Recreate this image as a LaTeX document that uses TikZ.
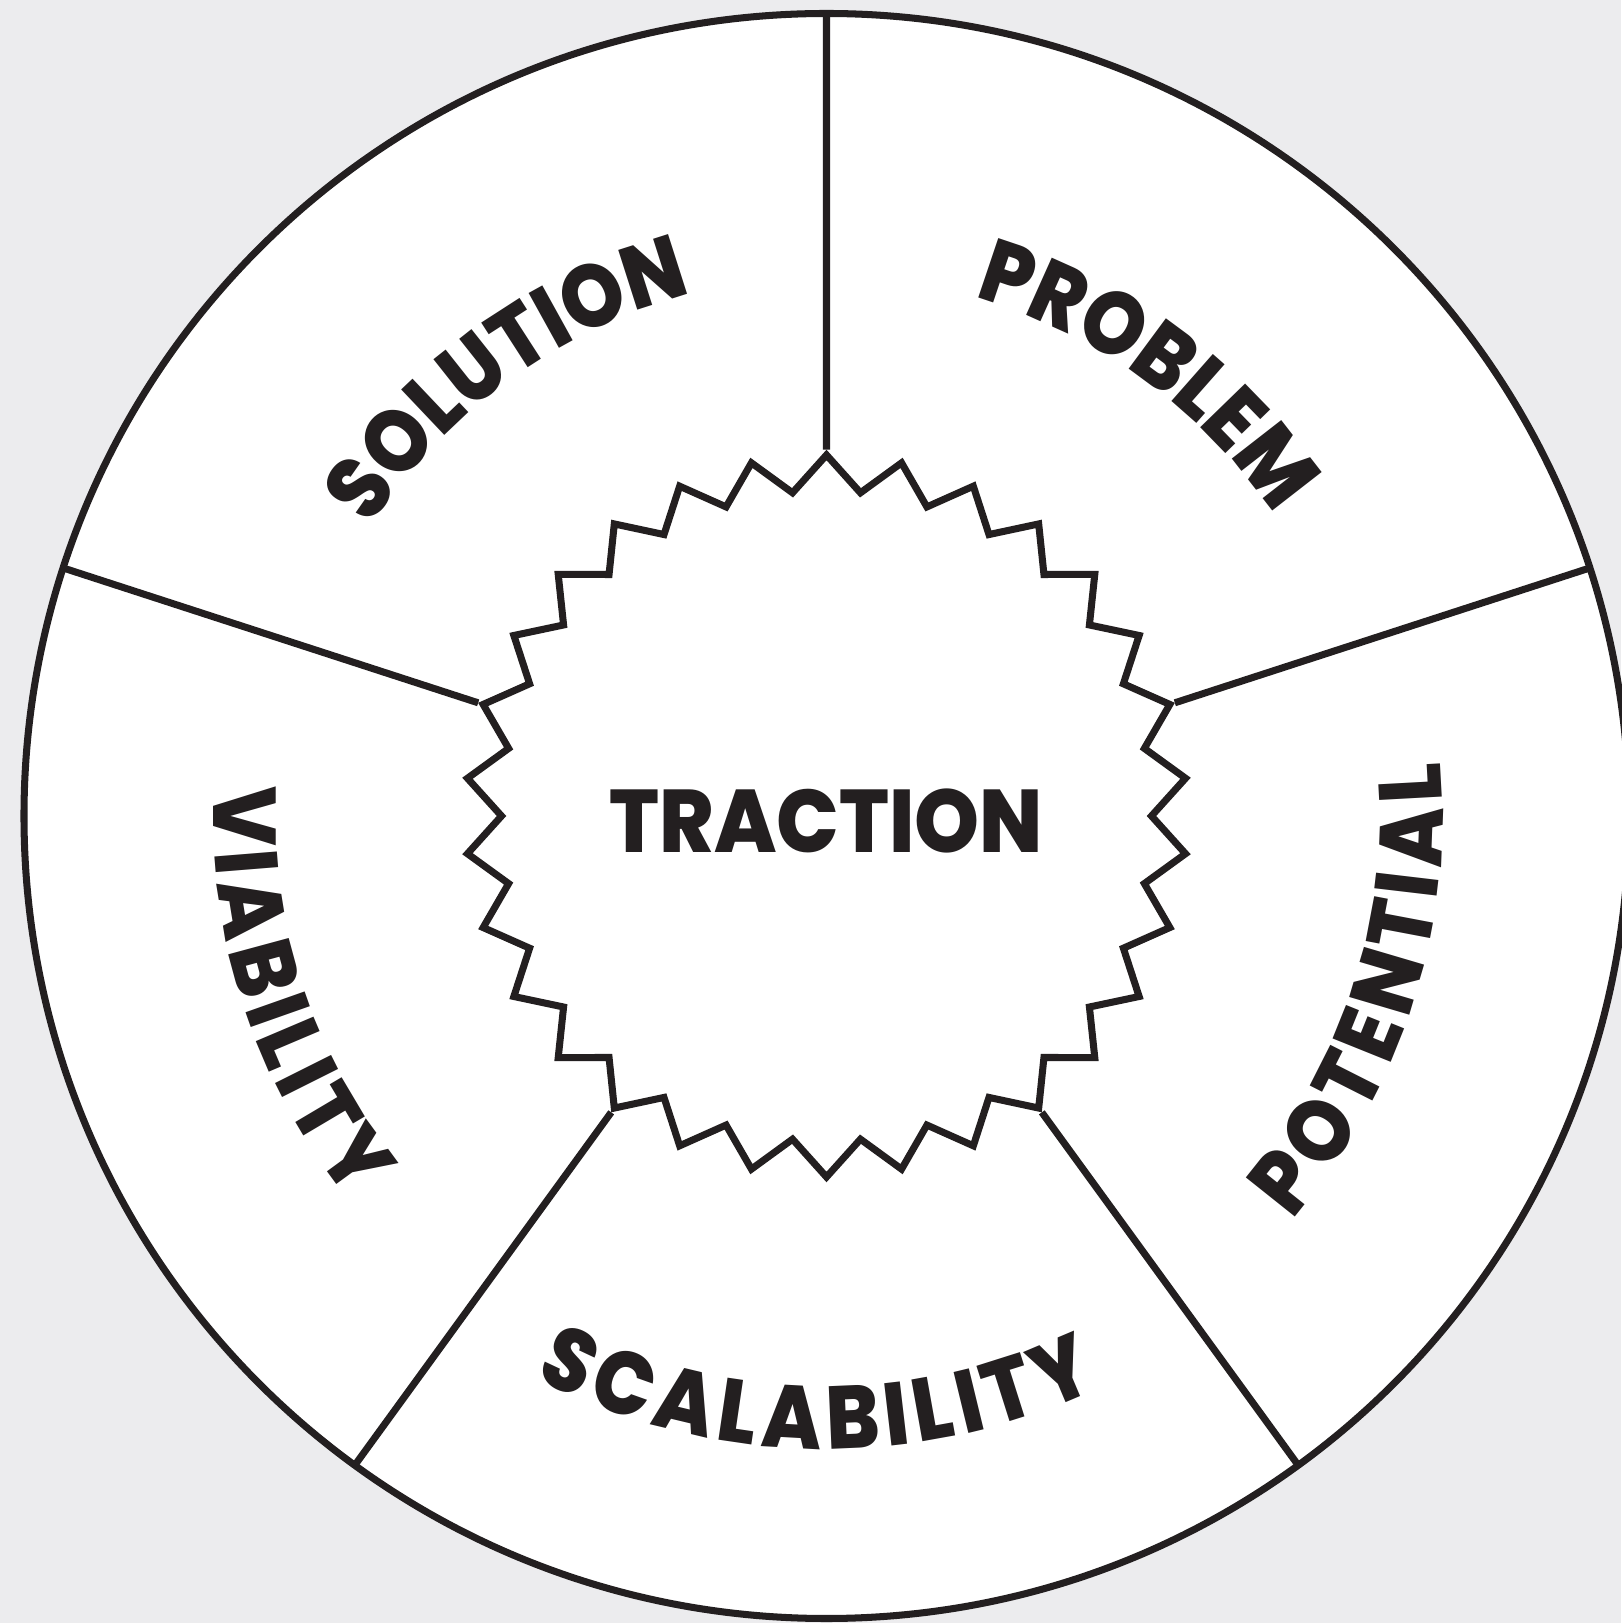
\documentclass[tikz,border=0pt]{standalone}
\usepackage{fontspec}
\usetikzlibrary{shapes.geometric,decorations.text}
\newfontfamily\labelfont{Poppins}[BoldFont={* ExtraBold}, FakeStretch=0.9]
\newfontfamily\hubfont{Poppins}[BoldFont={* ExtraBold}, FakeStretch=0.93]
\newcommand{\labelstyle}{\labelfont\bfseries\fontsize{25.3pt}{30pt}\selectfont}
\newcommand{\spacedstyle}{\labelstyle\fontdimen2\font=1.9pt}
\newcommand{\hubstyle}{\hubfont\bfseries\fontsize{25.3pt}{30pt}\selectfont}
\definecolor{ink}{RGB}{35,31,32}
\definecolor{paper}{RGB}{236,236,238}

\begin{document}
\begin{tikzpicture}[
        rim/.style={draw=ink, line width=2pt},
        spoke/.style={draw=ink, line width=2pt},
        arclabel/.style={decorate, decoration={text along path, text align=center, text={|\labelstyle\color{ink}|#1}}},
        lowlabel/.style={decorate, decoration={text along path, text align=center, text={|\spacedstyle\color{ink}|#1}}}
    ]
        \fill[paper] (-8.265, -8.07) rectangle (7.945, 8.16);
        \useasboundingbox (-8.265, -8.07) rectangle (7.945, 8.16);
        \draw[rim, fill=white] (0, 0) circle (8.025);
        \node[star, star points=30, star point ratio=1.111, minimum size=7.22cm, inner sep=0pt,
            text height=0.74cm, text depth=0cm,
            draw=ink, line width=2pt, fill=white, text=ink, font=\hubstyle] (hub) {TRACTION};
        \foreach \a/\n in {90/top, 18/right, 306/lowright, 234/lowleft, 162/left} {
            \coordinate (rim\n) at (\a:8.025);
            \draw[spoke] (hub.\a) -- (rim\n);
        }
        % labels: upper ones run clockwise, lower ones anticlockwise
        \path[arclabel=SOLUTION] (166:5.39) arc[start angle=166, end angle=86, radius=5.39];
        \path[arclabel=PROBLEM] (94:5.39) arc[start angle=94, end angle=14, radius=5.39];
        \path[lowlabel={P O T E N T I A L}] (-58:6.16) arc[start angle=-58, end angle=22, radius=6.16];
        \path[lowlabel={S C A L A B I L I T Y}] (-131:6.33) arc[start angle=-131, end angle=-51, radius=6.33];
        \path[lowlabel={V I A B I L I T Y}] (158:6.13) arc[start angle=158, end angle=238, radius=6.13];
    \end{tikzpicture}
\end{document}
